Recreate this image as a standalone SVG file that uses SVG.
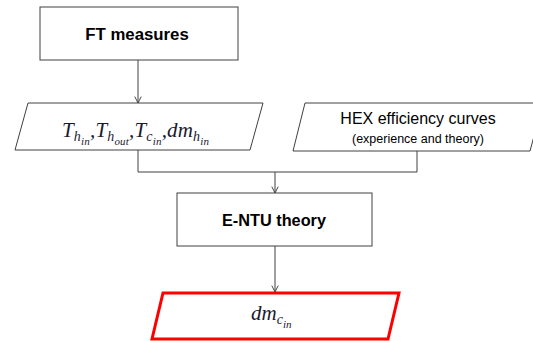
<svg xmlns="http://www.w3.org/2000/svg" width="533" height="341" viewBox="0 0 533 341">
<style>
.box{fill:#fff;stroke:#404040;stroke-width:1}
.out{fill:#fff;stroke:#ff0000;stroke-width:3}
.ln{fill:none;stroke:#404040;stroke-width:1}
.b{font-family:"Liberation Sans",Arial,sans-serif;font-weight:bold;fill:#000}
.s{font-family:"Liberation Sans",Arial,sans-serif;fill:#000}
.m{font-family:"Liberation Serif","DejaVu Serif",serif;font-style:italic;fill:#1a1a2e}
</style>
<defs>
<marker id="arr" viewBox="0 0 10 10" refX="9" refY="5" markerWidth="8" markerHeight="8" markerUnits="userSpaceOnUse" orient="auto">
<path d="M1,1 L9,5 L1,9" fill="none" stroke="#404040" stroke-width="1.2"/>
</marker>
</defs>
<g id="connectors">
<line class="ln" x1="138" y1="60" x2="138" y2="103" marker-end="url(#arr)"/>
<polyline class="ln" points="138,150 138,172 417,172 417,151"/>
<line class="ln" x1="275" y1="172" x2="275" y2="193" marker-end="url(#arr)"/>
<line class="ln" x1="275" y1="246" x2="275" y2="292" marker-end="url(#arr)"/>
</g>
<g id="ft">
<rect class="box" x="40" y="7" width="198" height="53"/>
<text class="b" x="137" y="39.5" font-size="16.8" text-anchor="middle">FT measures</text>
</g>
<g id="inputs">
<polygon class="box" points="28,103 263,103 250,150 15,150"/>
<text class="m" x="62" y="137" font-size="21" textLength="147" lengthAdjust="spacing">T<tspan font-size="14" dy="4">h</tspan><tspan font-size="11" dy="4">in</tspan><tspan dy="-8">,T</tspan><tspan font-size="14" dy="4">h</tspan><tspan font-size="11" dy="4">out</tspan><tspan dy="-8">,T</tspan><tspan font-size="14" dy="4">c</tspan><tspan font-size="11" dy="4">in</tspan><tspan dy="-8">,dm</tspan><tspan font-size="14" dy="4">h</tspan><tspan font-size="11" dy="4">in</tspan></text>
</g>
<g id="hex">
<polygon class="box" points="305,103 543,103 530,151 293,151"/>
<text class="s" x="418" y="124" font-size="16" text-anchor="middle">HEX efficiency curves</text>
<text class="s" x="418" y="143" font-size="12.5" text-anchor="middle">(experience and theory)</text>
</g>
<g id="entu">
<rect class="box" x="177" y="193" width="195" height="53"/>
<text class="b" x="274" y="226" text-anchor="middle" font-size="16.3">E-NTU theory</text>
</g>
<g id="result">
<polygon class="out" points="163,293 399,293 388,339 152,339"/>
<text class="m" x="251" y="320" font-size="21">dm<tspan font-size="14" dy="4">c</tspan><tspan font-size="11" dy="4">in</tspan></text>
</g>
</svg>
